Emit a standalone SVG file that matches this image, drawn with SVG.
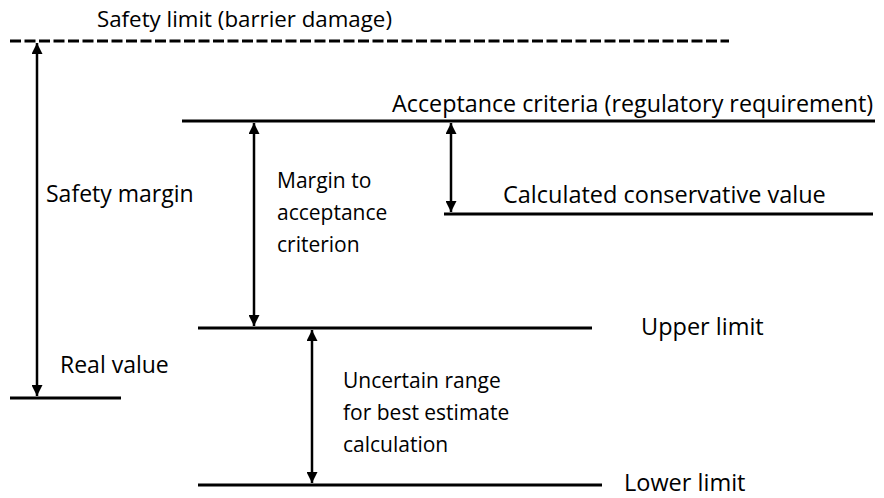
<svg xmlns="http://www.w3.org/2000/svg" width="884" height="498" viewBox="0 0 884 498">
  <defs>
    <marker id="head" viewBox="0 0 10 10" refX="10" refY="5" markerWidth="11" markerHeight="11" markerUnits="userSpaceOnUse" orient="auto-start-reverse">
      <path d="M0,0 L10,5 L0,10 Z" fill="#000"/>
    </marker>
  </defs>
  <style>
    .lvl { stroke: #000; stroke-width: 3; fill: none; }
    .dash { stroke-dasharray: 11 3.5; }
    .arr { stroke: #000; stroke-width: 2.5; fill: none; marker-start: url(#head); marker-end: url(#head); }
    text { font-family: "Open Sans", "Noto Sans", sans-serif; font-size: 23.5px; fill: #000; }
    .span { font-size: 21px; }
  </style>

  <rect width="884" height="498" fill="#fff"/>

  <!-- Level lines with their labels -->
  <g id="safety-limit">
    <line class="lvl dash" x1="10" y1="41" x2="729" y2="41"/>
    <text x="97" y="27" style="font-size:22.3px">Safety limit (barrier damage)</text>
  </g>
  <g id="acceptance-criteria">
    <line class="lvl" x1="182" y1="121" x2="875" y2="121"/>
    <text x="392" y="112" style="font-size:23.3px">Acceptance criteria (regulatory requirement)</text>
  </g>
  <g id="conservative-value">
    <line class="lvl" x1="444" y1="214" x2="873" y2="214"/>
    <text x="503" y="203">Calculated conservative value</text>
  </g>
  <g id="upper-limit">
    <line class="lvl" x1="198" y1="328" x2="592" y2="328"/>
    <text x="641" y="335">Upper limit</text>
  </g>
  <g id="lower-limit">
    <line class="lvl" x1="198" y1="485" x2="602" y2="485"/>
    <text x="624" y="491">Lower limit</text>
  </g>
  <g id="real-value">
    <line class="lvl" x1="10" y1="398" x2="121" y2="398"/>
    <text x="60" y="373" style="font-size:23px">Real value</text>
  </g>

  <!-- Span labels -->
  <g id="safety-margin">
    <text x="46" y="202" style="font-size:23px">Safety margin</text>
  </g>
  <g id="margin-to-acceptance">
    <text class="span" x="277" y="188">Margin to</text>
    <text class="span" x="277" y="220">acceptance</text>
    <text class="span" x="277" y="252">criterion</text>
  </g>
  <g id="uncertain-range">
    <text class="span" x="343" y="388">Uncertain range</text>
    <text class="span" x="343" y="420">for best estimate</text>
    <text class="span" x="343" y="452">calculation</text>
  </g>

  <!-- Double-headed span arrows -->
  <g id="connectors">
    <line class="arr" x1="37" y1="43" x2="37" y2="396"/>
    <line class="arr" x1="254" y1="123" x2="254" y2="326"/>
    <line class="arr" x1="451" y1="123" x2="451" y2="212"/>
    <line class="arr" x1="312" y1="330" x2="312" y2="483"/>
  </g>
</svg>
